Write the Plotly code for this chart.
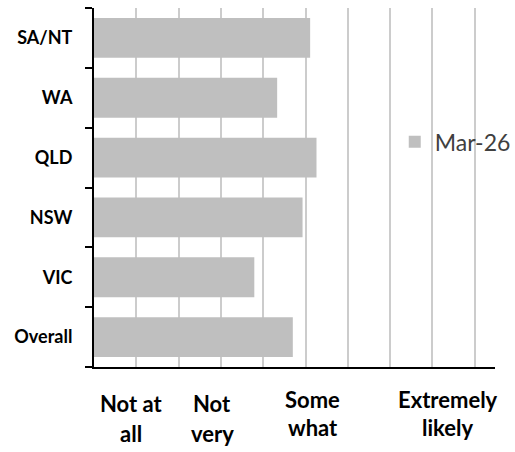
import plotly.graph_objects as go

# Regions, bottom to top as they appear on the chart
regions = ["Overall", "VIC", "NSW", "QLD", "WA", "SA/NT"]
# Mean likelihood score per region (scale 1-10)
mar26 = [5.70, 4.79, 5.93, 6.26, 5.33, 6.11]
series_name = "Mar-26"

# Verbal anchors written under the scale
anchor_labels = [("Not at", "all"), ("Not", "very"), ("Some", "what"), ("Extremely", "likely")]
anchor_values = [1.88, 3.79, 6.17, 9.36]

LEFT, RIGHT, TOP, BOTTOM = 94, 20, 8, 85
W, H = 515, 452

fig = go.Figure()
fig.add_trace(go.Bar(
    y=regions, x=mar26, orientation="h", name=series_name,
    marker=dict(color="#bfbfbf", line=dict(width=0)),
    showlegend=True,
))

# Two-line anchor labels; the right-hand pair sits slightly higher
line_offsets = {0: (-36, -66), 1: (-36, -66), 2: (-32, -60), 3: (-32, -60)}
for i, ((l1, l2), xv) in enumerate(zip(anchor_labels, anchor_values)):
    s1, s2 = line_offsets[i]
    for txt, ys in ((l1, s1), (l2, s2)):
        fig.add_annotation(
            x=xv, xref="x", y=0, yref="paper", yshift=ys,
            text=txt, showarrow=False, xanchor="center", yanchor="middle",
            font=dict(family="Lato", size=22, color="#000000", weight="bold"),
        )

fig.update_layout(
    width=W, height=H,
    margin=dict(l=LEFT, r=RIGHT, t=TOP, b=BOTTOM, pad=0, autoexpand=False),
    paper_bgcolor="white", plot_bgcolor="white",
    bargap=0.335,
    showlegend=True,
    legend=dict(
        x=0.75, xanchor="left", y=0.627, yanchor="middle",
        bgcolor="rgba(0,0,0,0)", borderwidth=0,
        font=dict(family="Lato", size=23, color="#404040"),
    ),
    xaxis=dict(
        range=[1, 10.48], tick0=1, dtick=1,
        showgrid=True, gridcolor="#cccccc", gridwidth=1.5,
        showline=True, linecolor="#000000", linewidth=2,
        showticklabels=False, ticks="", zeroline=False,
    ),
    yaxis=dict(
        categoryorder="array", categoryarray=regions,
        showline=True, linecolor="#000000", linewidth=2,
        ticks="outside", ticklen=7, tickwidth=2, tickcolor="#000000",
        tickson="boundaries", ticklabelstandoff=16,
        showgrid=False, zeroline=False,
        tickfont=dict(family="Lato", size=18, color="#000000", weight="bold"),
    ),
)

fig.write_html("out.html")
